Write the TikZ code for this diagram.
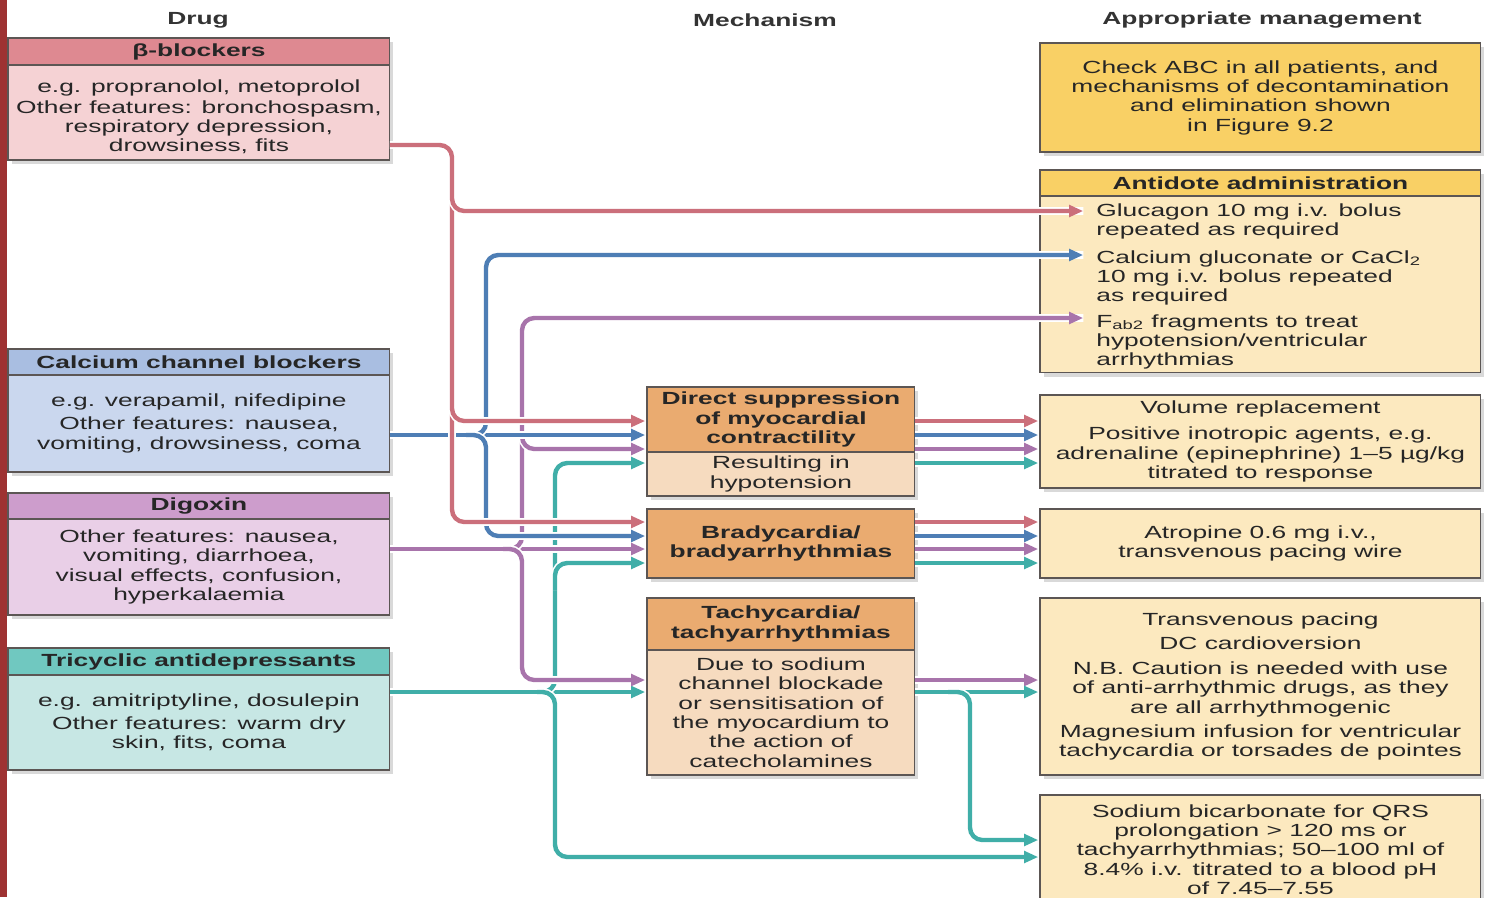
\documentclass[tikz,border=0pt]{standalone}
\usepackage{fontspec}
\setmainfont[FakeStretch=1.5]{Liberation Sans}
\usetikzlibrary{arrows.meta,positioning,shadows}

\definecolor{stripRed}{HTML}{9E3232}
\definecolor{bbDark}{HTML}{DE8991}
\definecolor{bbLight}{HTML}{F5D2D4}
\definecolor{ccbDark}{HTML}{A9BEE1}
\definecolor{ccbLight}{HTML}{CAD7EE}
\definecolor{digDark}{HTML}{CD9DCC}
\definecolor{digLight}{HTML}{E9CFE7}
\definecolor{tcaDark}{HTML}{70C8C0}
\definecolor{tcaLight}{HTML}{C7E7E4}
\definecolor{mechDark}{HTML}{EAAB70}
\definecolor{mechLight}{HTML}{F6DBBF}
\definecolor{mgmtDark}{HTML}{F9D065}
\definecolor{mgmtLight}{HTML}{FCE9BF}
\definecolor{boxLine}{HTML}{5C5654}
\definecolor{cRed}{HTML}{CB6F7B}
\definecolor{cBlue}{HTML}{4E7EB5}
\definecolor{cPurple}{HTML}{A874AB}
\definecolor{cTeal}{HTML}{40AEA8}

\begin{document}
\begin{tikzpicture}[x=0.02cm,y=-0.02cm,>={Triangle[length=8pt,width=6.5pt]},shorten >=1pt,
                    font=\fontsize{10}{11}\selectfont]
  \tikzstyle{box}=[draw=boxLine,line width=0.6pt,outer sep=0pt,inner sep=2pt,
                   align=center,text=black!85,
                   drop shadow={shadow xshift=2pt,shadow yshift=-2.5pt,opacity=.3}]
  \tikzstyle{title}=[font=\fontsize{10}{11}\selectfont\bfseries,text=black!80]
  \tikzstyle{drughead}=[box,font=\fontsize{10}{11}\selectfont\bfseries,
                        minimum width=7.64cm,anchor=north west]
  \tikzstyle{drugbody}=[box,minimum width=7.64cm]
  \tikzstyle{mechhead}=[box,fill=mechDark,font=\fontsize{10}{11}\selectfont\bfseries,
                        minimum width=5.36cm,anchor=north west]
  \tikzstyle{mechbody}=[box,fill=mechLight,minimum width=5.36cm]
  \tikzstyle{mgmt}=[box,fill=mgmtLight,minimum width=8.82cm,anchor=north west]
  \tikzstyle{item}=[align=left,anchor=north west,inner ysep=0pt,inner xsep=0.22cm,text=black!85]
  \tikzstyle{route}=[line width=2.5pt,rounded corners=7pt,
                     preaction={draw=white,line width=4.3pt,-}]

  \useasboundingbox (0,0) rectangle (1491,897);
  \fill[stripRed] (0,0) rectangle (7,897);

  \node[title] (drugTitle) at (198,20) {Drug};
  \node[title] (mechTitle) at (765,20) {Mechanism};
  \node[title] (mgmtTitle) at (1262,20) {Appropriate management};

  \node[drughead,fill=bbDark,minimum height=0.54cm] (bbHead) at (8,38) {β-blockers};
  \node[drugbody,fill=bbLight,minimum height=1.9cm,below=0pt of bbHead] (bbBody)
       {\rule{0pt}{12pt}e.g. propranolol, metoprolol\\[1pt]Other features: bronchospasm,\\respiratory depression,\\drowsiness, fits};
  \node[drughead,fill=ccbDark,minimum height=0.52cm] (ccbHead) at (8,349) {Calcium channel blockers};
  \node[drugbody,fill=ccbLight,minimum height=1.94cm,below=0pt of ccbHead] (ccbBody)
       {e.g. verapamil, nifedipine\\[2pt]Other features: nausea,\\vomiting, drowsiness, coma};
  \node[drughead,fill=digDark,minimum height=0.52cm] (digHead) at (8,493) {Digoxin};
  \node[drugbody,fill=digLight,minimum height=1.92cm,below=0pt of digHead] (digBody)
       {Other features: nausea,\\vomiting, diarrhoea,\\visual effects, confusion,\\hyperkalaemia};
  \node[drughead,fill=tcaDark,minimum height=0.54cm] (tcaHead) at (8,648) {Tricyclic antidepressants};
  \node[drugbody,fill=tcaLight,minimum height=1.9cm,below=0pt of tcaHead] (tcaBody)
       {e.g. amitriptyline, dosulepin\\[2pt]Other features: warm dry\\skin, fits, coma};

  \node[mechhead,minimum height=1.3cm] (dsHead) at (647,387)
       {Direct suppression\\of myocardial\\contractility};
  \node[mechbody,minimum height=0.88cm,below=0pt of dsHead] (dsBody) {Resulting in\\hypotension};
  \node[mechhead,minimum height=1.38cm] (brady) at (647,509) {Bradycardia/\\bradyarrhythmias};
  \node[mechhead,minimum height=1.04cm] (tachyHead) at (647,598) {Tachycardia/\\tachyarrhythmias};
  \node[mechbody,minimum height=2.5cm,below=0pt of tachyHead] (tachyBody)
       {Due to sodium\\channel blockade\\or sensitisation of\\the myocardium to\\the action of\\catecholamines};

  \node[mgmt,fill=mgmtDark,minimum height=2.18cm] (abc) at (1040,43)
       {Check ABC in all patients, and\\mechanisms of decontamination\\and elimination shown\\in Figure 9.2};
  \node[mgmt,fill=mgmtDark,minimum height=0.52cm,font=\fontsize{10}{11}\selectfont\bfseries]
       (antiHead) at (1040,170) {Antidote administration};
  \node[mgmt,minimum height=3.54cm,below=0pt of antiHead] (antiBody) {};
  \node[item] (glu) at (1085,203) {Glucagon 10 mg i.v. bolus\\repeated as required};
  \node[item] (calc) at (1085,250) {Calcium gluconate or CaCl\textsubscript{2}\\10 mg i.v. bolus repeated\\as required};
  \node[item] (fab) at (1085,314) {F\textsubscript{ab2} fragments to treat\\hypotension/ventricular\\arrhythmias};
  \node[mgmt,minimum height=1.86cm] (vol) at (1040,395)
       {Volume replacement\\[4pt]Positive inotropic agents, e.g.\\adrenaline (epinephrine) 1--5 µg/kg\\titrated to response};
  \node[mgmt,minimum height=1.38cm] (atro) at (1040,509) {Atropine 0.6 mg i.v.,\\transvenous pacing wire};
  \node[mgmt,minimum height=3.54cm] (trans) at (1040,598)
       {Transvenous pacing\\[3pt]DC cardioversion\\[3pt]N.B. Caution is needed with use\\of anti-arrhythmic drugs, as they\\are all arrhythmogenic\\[3pt]Magnesium infusion for ventricular\\tachycardia or torsades de pointes};
  \node[mgmt,minimum height=2.18cm] (soda) at (1040,795)
       {Sodium bicarbonate for QRS\\prolongation > 120 ms or\\tachyarrhythmias; 50--100 ml of\\8.4\% i.v. titrated to a blood pH\\of 7.45--7.55};

  % tricyclics
  \draw[route,cTeal,->] (tcaBody.east |- 0,692) -- (tachyBody.west |- 0,692);
  \draw[route,cTeal,->] (537,692) -| (555,463) -- (dsBody.west |- 0,463);
  \draw[route,cTeal,->] (555,590) |- (brady.west |- 0,563);
  \draw[route,cTeal,->] (537,692) -| (555,857) -- (soda.west |- 0,857);
  % digoxin
  \draw[route,cPurple,->] (digBody.east |- 0,549) -- (brady.west |- 0,549);
  \draw[route,cPurple,->] (503,549) -| (522,318) -- (fab.west |- 0,318);
  \draw[route,cPurple,->] (522,425) |- (dsHead.west |- 0,449);
  \draw[route,cPurple,->] (503,549) -| (522,680) -- (tachyBody.west |- 0,680);
  % calcium channel blockers
  \draw[route,cBlue,->] (ccbBody.east |- 0,435) -- (dsHead.west |- 0,435);
  \draw[route,cBlue,->] (466,435) -| (486,255) -- (calc.west |- 0,255);
  \draw[route,cBlue,->] (466,435) -| (486,536) -- (brady.west |- 0,536);
  % beta-blockers
  \draw[route,cRed,->] (bbBody.east |- 0,145) -| (452,522) -- (brady.west |- 0,522);
  \draw[route,cRed,->] (452,185) |- (glu.west |- 0,211);
  \draw[route,cRed,->] (452,395) |- (dsHead.west |- 0,421);

  \foreach \y/\c in {421/cRed,435/cBlue,449/cPurple,463/cTeal}
    \draw[route,\c,->] (dsHead.east |- 0,\y) -- (vol.west |- 0,\y);
  \foreach \y/\c in {522/cRed,536/cBlue,549/cPurple,563/cTeal}
    \draw[route,\c,->] (brady.east |- 0,\y) -- (atro.west |- 0,\y);
  \draw[route,cPurple,->] (tachyBody.east |- 0,680) -- (trans.west |- 0,680);
  \draw[route,cTeal,->] (tachyBody.east |- 0,692) -- (trans.west |- 0,692);
  \draw[route,cTeal,->] (948,692) -| (970,840) -- (soda.west |- 0,840);
\end{tikzpicture}
\end{document}
